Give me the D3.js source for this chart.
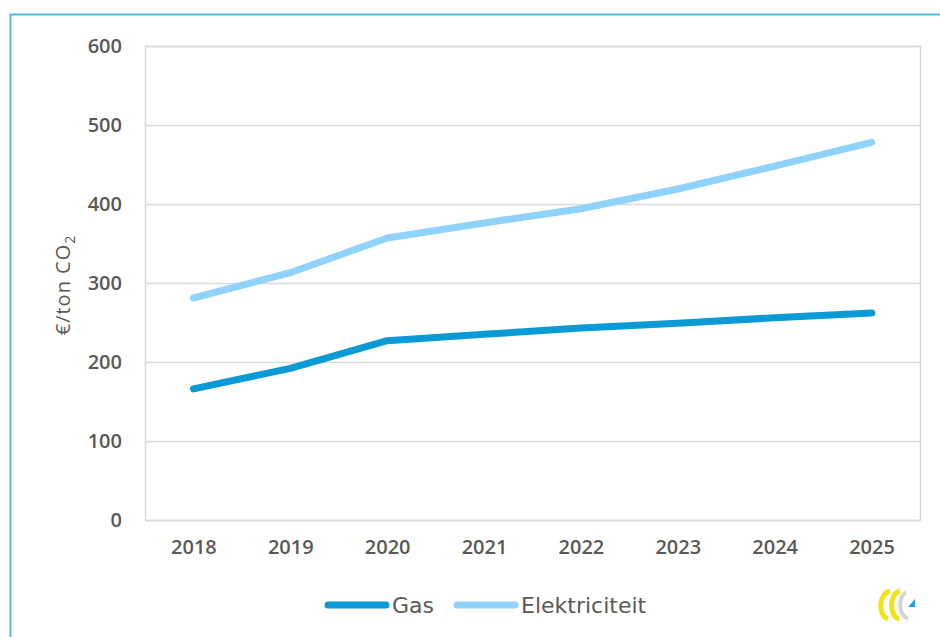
<!DOCTYPE html>
<html>
<head>
<meta charset="utf-8">
<script src="https://cdn.jsdelivr.net/npm/d3@7"></script>
<style>
  body { margin: 0; background: #fff; }
  text { font-family: "Open Sans", "DejaVu Sans", sans-serif; fill: #595959; }
</style>
</head>
<body>
<svg width="940" height="637"></svg>
<script>
var years = ["2018", "2019", "2020", "2021", "2022", "2023", "2024", "2025"];
var gas = [166, 192, 227, 235, 243, 249, 256, 262];
var elektriciteit = [281, 313, 357, 376, 394, 419, 448, 478];
var yTicks = [0, 100, 200, 300, 400, 500, 600];

var svg = d3.select("svg"),
    margin = {top: 46, right: 20, bottom: 117, left: 145},
    width = 940 - margin.left - margin.right,
    height = 637 - margin.top - margin.bottom;

// outer frame (blue)
svg.append("path")
    .attr("d", "M10.5,637 V14.5 H940")
    .attr("fill", "none")
    .attr("stroke", "#4fb8e4")
    .attr("stroke-width", 2);

var g = svg.append("g").attr("transform", "translate(" + margin.left + "," + margin.top + ")");

var x = d3.scalePoint().domain(years).range([0, width]).padding(0.5);
var y = d3.scaleLinear().domain([0, 600]).range([height, 0]);

// grid
g.selectAll(".grid")
  .data(yTicks)
  .enter().append("line")
    .attr("x1", 0).attr("x2", width)
    .attr("y1", function(d) { return Math.round(y(d)) + 0.5; })
    .attr("y2", function(d) { return Math.round(y(d)) + 0.5; })
    .attr("stroke", "#d9d9d9")
    .attr("stroke-width", 1.5);

g.append("rect")
    .attr("x", 0.5).attr("y", 0.5)
    .attr("width", width).attr("height", height)
    .attr("fill", "none")
    .attr("stroke", "#d9d9d9")
    .attr("stroke-width", 1.5);

// axes
var yAxis = g.append("g")
    .call(d3.axisLeft(y).tickValues(yTicks).tickSize(0).tickPadding(23));
yAxis.select(".domain").remove();
yAxis.selectAll("text")
    .style("font-size", "20px").style("font-weight", 600).attr("fill", "#595959");

var xAxis = g.append("g")
    .attr("transform", "translate(0," + height + ")")
    .call(d3.axisBottom(x).tickSize(0).tickPadding(20));
xAxis.select(".domain").remove();
xAxis.selectAll("text")
    .style("font-size", "20px").style("font-weight", 600).attr("fill", "#595959");

// y title
var ytitle = svg.append("text")
    .attr("transform", "translate(70," + (margin.top + height / 2 + 2) + ") rotate(-90)")
    .attr("text-anchor", "middle")
    .style("font-size", "20px")
    .style("letter-spacing", "1px");
ytitle.append("tspan").text("€/ton CO");
ytitle.append("tspan").text("2").attr("dy", 5).style("font-size", "14px");

// lines
var line = d3.line()
    .x(function(d, i) { return x(years[i]); })
    .y(function(d) { return y(d); });

var series = [
  {name: "Gas", values: gas, color: "#0a9ad5"},
  {name: "Elektriciteit", values: elektriciteit, color: "#8fd3fd"}
];

g.selectAll(".series")
  .data(series)
  .enter().append("path")
    .attr("d", function(d) { return line(d.values); })
    .attr("fill", "none")
    .attr("stroke", function(d) { return d.color; })
    .attr("stroke-width", 7)
    .attr("stroke-linecap", "round")
    .attr("stroke-linejoin", "round");

// legend
var legX = [328, 457];
var leg = svg.selectAll(".legend")
  .data(series)
  .enter().append("g")
    .attr("transform", function(d, i) { return "translate(" + legX[i] + ",605)"; });
leg.append("line")
    .attr("x1", 0).attr("x2", 58)
    .attr("stroke", function(d) { return d.color; })
    .attr("stroke-width", 7)
    .attr("stroke-linecap", "round");
leg.append("text")
    .attr("x", 64).attr("dy", "0.36em")
    .style("font-size", "22px")
    .style("font-family", "'DejaVu Sans', sans-serif")
    .text(function(d) { return d.name; });

// small logo in corner
var logo = svg.append("g").attr("transform", "translate(876,588)");
logo.append("path")
    .attr("d", "M14,3 C2,6 2,28 12,31")
    .attr("fill", "none").attr("stroke", "#f2e21c").attr("stroke-width", 5);
logo.append("path")
    .attr("d", "M24,3 C13,6 13,28 23,31")
    .attr("fill", "none").attr("stroke", "#f2e21c").attr("stroke-width", 5);
logo.append("path")
    .attr("d", "M30,4 C22,10 22,26 32,31")
    .attr("fill", "none").attr("stroke", "#d4d4d4").attr("stroke-width", 4);
logo.append("path")
    .attr("d", "M32,19 L39,11 L39,19 Z")
    .attr("fill", "#1aa3e8");
</script>
</body>
</html>
